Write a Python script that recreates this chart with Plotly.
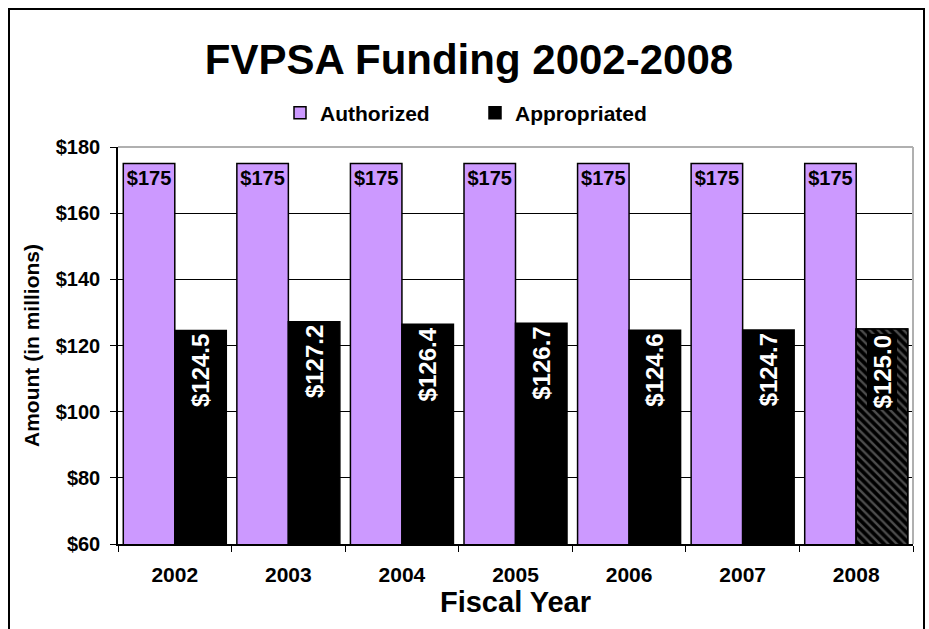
import plotly.graph_objects as go

years = ["2002", "2003", "2004", "2005", "2006", "2007", "2008"]
authorized = [175, 175, 175, 175, 175, 175, 175]
appropriated = [124.5, 127.2, 126.4, 126.7, 124.6, 124.7, 125.0]
y_ticks = [60, 80, 100, 120, 140, 160, 180]

FONT = "Liberation Sans, Arial, sans-serif"
W, H = 929, 629
ML, MR, MT, MB = 118, 16, 147, 85
PW, PH = W - ML - MR, H - MT - MB

auth_text = [f"${v:.0f}" for v in authorized]
appr_text = [f"${v:.1f}" for v in appropriated]
appr_text_trace = appr_text[:-1] + [""]
y_ticktext = [f"${v}" for v in y_ticks]
last_idx = len(years) - 1

fig = go.Figure()
fig.add_trace(go.Bar(
    x=years, y=authorized, name="Authorized", offsetgroup="a",
    marker=dict(color="#CC99FF", line=dict(color="black", width=1.5)),
    text=auth_text, textposition="inside", insidetextanchor="end",
    textangle=0,
    textfont=dict(family=FONT, size=20, color="black", weight="bold"),
))
fig.add_trace(go.Bar(
    x=years, y=appropriated, name="Appropriated", offsetgroup="b",
    marker=dict(color="black", line=dict(color="black", width=1.5)),
    text=appr_text_trace, textposition="inside", insidetextanchor="end",
    textangle=-90,
    textfont=dict(family=FONT, size=24, color="white", weight="bold"),
))
# hatched (estimated) 2008 appropriation, drawn over the same slot
fig.add_trace(go.Bar(
    x=[years[-1]], y=[appropriated[-1]], name="Appropriated", offsetgroup="b",
    showlegend=False,
    marker=dict(color="black", line=dict(color="black", width=1.5),
                pattern=dict(shape="\\", fgcolor="#999999", bgcolor="black",
                             size=6, solidity=0.4)),
))

fig.update_layout(
    width=W, height=H,
    margin=dict(l=ML, r=MR, t=MT, b=MB, autoexpand=False),
    paper_bgcolor="white", plot_bgcolor="white",
    barmode="group", bargap=0.093, bargroupgap=0,
    font=dict(family=FONT, color="black"),
    title=dict(text="FVPSA Funding 2002-2008", x=469 / W, xref="container",
               xanchor="center", y=1 - 59 / H, yanchor="middle",
               font=dict(family=FONT, size=42, color="black", weight="bold")),
    legend=dict(orientation="h", x=475 / W, xanchor="center", xref="container",
                y=1 - 113 / H, yanchor="middle", yref="container",
                entrywidth=150, entrywidthmode="pixels",
                font=dict(family=FONT, size=21, color="black", weight="bold")),
    showlegend=True,
)

# label with black box for the hatched 2008 bar
fig.add_annotation(
    x=last_idx, y=appropriated[-1], xref="x", yref="y",
    text=appr_text[-1], textangle=-90, showarrow=False,
    yanchor="top", xshift=PW / 7 * 0.907 / 4, yshift=-4,
    bgcolor="black", borderpad=1,
    font=dict(family=FONT, size=24, color="white", weight="bold"),
)

fig.update_xaxes(
    type="category", range=[-0.5, len(years) - 0.5],
    showline=True, linecolor="black", linewidth=1.5,
    ticks="outside", tickson="boundaries", ticklen=6, tickcolor="black",
    ticklabelstandoff=11,
    tickfont=dict(family=FONT, size=21, color="black", weight="bold"),
    title=dict(text="Fiscal Year", standoff=2,
               font=dict(family=FONT, size=29, color="black", weight="bold")),
    showgrid=False,
)
fig.update_yaxes(
    range=[60, 180], tickvals=y_ticks, ticktext=y_ticktext,
    showline=True, linecolor="black", linewidth=1.5,
    ticks="outside", ticklen=6, tickcolor="black",
    ticklabelstandoff=6,
    showgrid=True, gridcolor="black", gridwidth=1,
    tickfont=dict(family=FONT, size=20, color="black", weight="bold"),
    title=dict(text="Amount (in millions)", standoff=10,
               font=dict(family=FONT, size=21, color="black", weight="bold")),
)

# outer chart frame
fig.add_shape(type="rect", xref="paper", yref="paper",
              x0=(9 - ML) / PW, x1=(924 - ML) / PW,
              y0=-(MB + 40) / PH, y1=(PH + MT - 9) / PH,
              line=dict(color="black", width=2), layer="below")
# gray top/right plot border
fig.add_shape(type="line", xref="paper", yref="paper", x0=0, x1=1, y0=1, y1=1,
              line=dict(color="#b0b0b0", width=2))
fig.add_shape(type="line", xref="paper", yref="paper", x0=1, x1=1, y0=0, y1=1,
              line=dict(color="#b0b0b0", width=2))

fig.write_html("out.html")
